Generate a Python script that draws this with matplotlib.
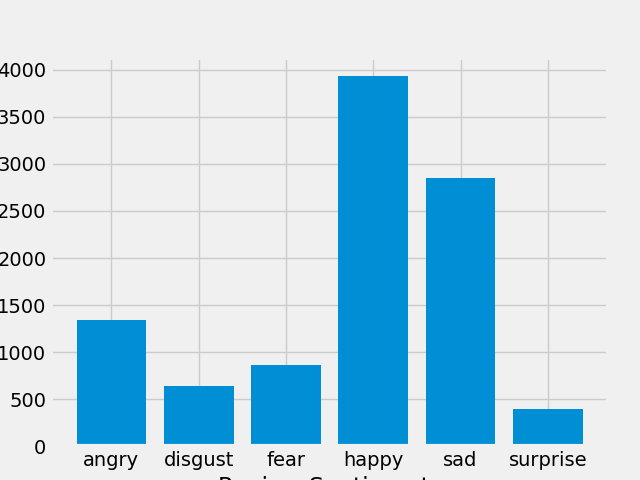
import matplotlib
matplotlib.use('Agg')
import matplotlib.pyplot as plt

# Data
sentiments = ['angry', 'disgust', 'fear', 'happy', 'sad', 'surprise']
counts = [1339, 638, 861, 3932, 2848, 393]

plt.style.use('fivethirtyeight')
fig = plt.figure(figsize=(6.4, 4.8), dpi=100)
plt.bar(sentiments, counts)
plt.xlabel('Review Sentiments')
plt.savefig('out.png', dpi=100)
